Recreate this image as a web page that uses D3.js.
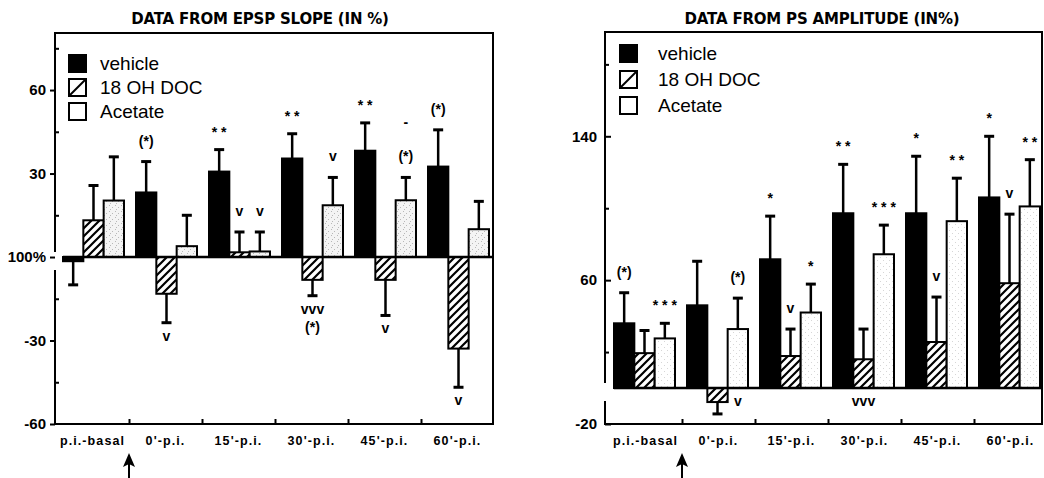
<!DOCTYPE html>
<html>
<head>
<meta charset="utf-8">
<script src="https://cdn.jsdelivr.net/npm/d3@7"></script>
<style>
  body { margin: 0; background: #fff; }
  svg { display: block; font-family: "Liberation Sans", Arial, Helvetica, sans-serif; }
</style>
</head>
<body>
<svg width="1044" height="478"></svg>
<script>
// categories
const groups = ["p.i.-basal", "0'-p.i.", "15'-p.i.", "30'-p.i.", "45'-p.i.", "60'-p.i."];
const seriesNames = ["vehicle", "18 OH DOC", "Acetate"];

// EPSP slope (change vs 100%)
const epspVehicle = [-1.5, 23.2, 30.7, 35.4, 38.2, 32.5];
const epspVehicleSem = [8.5, 11.1, 7.9, 8.9, 10.0, 13.2];
const epspDoc = [13.2, -13.2, 1.7, -8.2, -8.2, -32.9];
const epspDocSem = [12.5, 10.4, 7.3, 5.7, 12.8, 13.9];
const epspAcetate = [20.3, 3.9, 2.0, 18.6, 20.4, 10.0];
const epspAcetateSem = [15.7, 11.1, 7.0, 10.0, 8.2, 10.0];
const epspTicks = [-60, -30, 0, 30, 60];
const epspMinorTicks = [-45, -15, 15, 45, 75];

// PS amplitude (change vs 100%)
const psVehicle = [36, 46, 71.6, 97.2, 97.2, 106];
const psVehicleSem = [17, 24.5, 24, 27.2, 31.7, 34];
const psDoc = [19.4, -7.8, 17.8, 16, 25.6, 58.3];
const psDocSem = [12.6, 6.6, 15, 16.8, 25, 38.4];
const psAcetate = [27.6, 32.8, 42, 74.4, 92.8, 101];
const psAcetateSem = [8.4, 17.2, 15.8, 16.2, 23.9, 26];
const psTicks = [-20, 60, 140];
const psMinorTicks = [20, 100, 180];

// significance marks: group index, series index, text, side, stack level
const epspMarks = [
  {g: 1, s: 0, text: "(*)", side: "up", level: 0},
  {g: 1, s: 1, text: "v", side: "down", level: 0},
  {g: 2, s: 0, text: "* *", side: "up", level: 0},
  {g: 2, s: 1, text: "v", side: "up", level: 0},
  {g: 2, s: 2, text: "v", side: "up", level: 0},
  {g: 3, s: 0, text: "* *", side: "up", level: 0},
  {g: 3, s: 1, text: "vvv", side: "down", level: 0},
  {g: 3, s: 1, text: "(*)", side: "down", level: 1},
  {g: 3, s: 2, text: "v", side: "up", level: 0},
  {g: 4, s: 0, text: "* *", side: "up", level: 0},
  {g: 4, s: 1, text: "v", side: "down", level: 0},
  {g: 4, s: 2, text: "(*)", side: "up", level: 0},
  {g: 4, s: 2, text: "-", side: "up", level: 2},
  {g: 5, s: 0, text: "(*)", side: "up", level: 0},
  {g: 5, s: 1, text: "v", side: "down", level: 0}
];
const psMarks = [
  {g: 0, s: 0, text: "(*)", side: "up", level: 0},
  {g: 0, s: 2, text: "* * *", side: "up", level: 0},
  {g: 1, s: 2, text: "(*)", side: "up", level: 0},
  {g: 1, s: 2, text: "v", side: "down", level: 0},
  {g: 2, s: 0, text: "*", side: "up", level: 0},
  {g: 2, s: 1, text: "v", side: "up", level: 0},
  {g: 2, s: 2, text: "*", side: "up", level: 0},
  {g: 3, s: 0, text: "* *", side: "up", level: 0},
  {g: 3, s: 1, text: "vvv", side: "down", level: 0},
  {g: 3, s: 2, text: "* * *", side: "up", level: 0},
  {g: 4, s: 0, text: "*", side: "up", level: 0},
  {g: 4, s: 1, text: "v", side: "up", level: 0},
  {g: 4, s: 2, text: "* *", side: "up", level: 0},
  {g: 5, s: 0, text: "*", side: "up", level: 0},
  {g: 5, s: 1, text: "v", side: "up", level: 0},
  {g: 5, s: 2, text: "* *", side: "up", level: 0}
];

const svg = d3.select("svg");
const defs = svg.append("defs");

// hatch for 18 OH DOC
const hatch = defs.append("pattern")
    .attr("id", "hatch")
    .attr("patternUnits", "userSpaceOnUse")
    .attr("width", 8).attr("height", 8);
hatch.append("rect").attr("width", 8).attr("height", 8).attr("fill", "#fff");
hatch.append("path")
    .attr("d", "M-2,2 L2,-2 M0,8 L8,0 M6,10 L10,6")
    .attr("stroke", "#000").attr("stroke-width", 2.2);

// stippled fills for acetate
function dots(id, bg, dot, pts) {
    const p = defs.append("pattern")
        .attr("id", id)
        .attr("patternUnits", "userSpaceOnUse")
        .attr("width", 6).attr("height", 6);
    p.append("rect").attr("width", 6).attr("height", 6).attr("fill", bg);
    pts.forEach(d => p.append("rect")
        .attr("x", d[0]).attr("y", d[1]).attr("width", 1).attr("height", 1).attr("fill", dot));
}
dots("dotsL", "#f4f4f4", "#b8b8b8", [[1, 1], [4, 3], [2, 5]]);
dots("dotsR", "#fff", "#d6d6d6", [[1, 2], [4, 5]]);

function drawPanel(opt) {
    const g = svg.append("g");
    const x = d3.scaleBand().domain(groups).range([opt.x0, opt.x0 + groups.length * 73]);
    const xs = d3.scaleBand().domain(seriesNames).range([opt.barOffset, opt.barOffset + 61]);
    const xb = d3.scaleLinear().domain([0, groups.length]).range(x.range());
    const y = d3.scaleLinear().domain(opt.domain).range([opt.bottom, opt.top]);
    const fills = ["#000", "url(#hatch)", opt.dotFill];

    const rows = [];
    groups.forEach((gn, i) => {
        seriesNames.forEach((sn, j) => {
            const v = opt.values[j][i];
            const e = opt.sems[j][i];
            rows.push({g: gn, gi: i, s: sn, si: j, v: v, tip: v + Math.sign(v) * e});
        });
    });

    // title
    g.append("text")
        .attr("x", opt.titleX).attr("y", 24)
        .attr("text-anchor", "middle")
        .attr("font-family", "DejaVu Sans, sans-serif")
        .attr("font-size", 15).attr("font-weight", "bold")
        .attr("letter-spacing", -0.2)
        .text(opt.title);

    // frame, left side broken around the 100% label
    const fr = g.append("g").attr("stroke", "#000").attr("stroke-width", 2).attr("fill", "none");
    fr.append("path").attr("d",
        `M${opt.left},${y(0) - 5} V${opt.top} H${opt.right} V${opt.bottom} H${opt.left} V${y(0) + 13}`);

    // y axis
    const ya = g.append("g")
        .attr("transform", `translate(${opt.left},0)`)
        .call(d3.axisLeft(y).tickValues(opt.ticks).tickSize(opt.tickSize).tickPadding(opt.tickPad)
            .tickFormat(d => d === 0 ? "100%" : d));
    ya.select(".domain").remove();
    ya.selectAll("line").attr("stroke-width", 2);
    ya.selectAll("text").attr("font-size", 15).attr("font-weight", "bold")
        .attr("font-family", "Liberation Sans, Arial, sans-serif").attr("fill", "#000");

    const ym = g.append("g")
        .attr("transform", `translate(${opt.left},0)`)
        .call(d3.axisLeft(y).tickValues(opt.minorTicks).tickSize(-4).tickFormat(""));
    ym.select(".domain").remove();
    ym.selectAll("line").attr("stroke-width", 2);

    // x axis: boundary ticks and labels
    const xt = g.append("g")
        .attr("transform", `translate(0,${opt.bottom})`)
        .call(d3.axisBottom(xb).tickValues(d3.range(1, groups.length)).tickSize(-5).tickFormat(""));
    xt.select(".domain").remove();
    xt.selectAll("line").attr("stroke-width", 2);

    const xl = g.append("g")
        .attr("transform", `translate(0,${opt.bottom})`)
        .call(d3.axisBottom(x).tickSize(0).tickPadding(12));
    xl.select(".domain").remove();
    xl.selectAll("text").attr("font-size", 12.5).attr("font-weight", "bold")
        .attr("letter-spacing", 1.1).attr("fill", "#000")
        .attr("font-family", "Liberation Sans, Arial, sans-serif");

    // bars
    g.selectAll("rect.bar")
        .data(rows)
        .enter().append("rect")
            .attr("class", "bar")
            .attr("x", d => x(d.g) + xs(d.s))
            .attr("y", d => y(Math.max(d.v, 0)))
            .attr("width", xs.bandwidth())
            .attr("height", d => Math.abs(y(d.v) - y(0)))
            .attr("fill", d => fills[d.si])
            .attr("stroke", "#000")
            .attr("stroke-width", 2);

    // baseline at 100%
    g.append("line")
        .attr("x1", x(groups[0]) + xs(seriesNames[0]))
        .attr("x2", opt.right)
        .attr("y1", y(0)).attr("y2", y(0))
        .attr("stroke", "#000").attr("stroke-width", 2.5);

    // error bars
    const cx = d => x(d.g) + xs(d.s) + xs.bandwidth() / 2;
    g.selectAll("line.err")
        .data(rows)
        .enter().append("line")
            .attr("class", "err")
            .attr("x1", cx).attr("x2", cx)
            .attr("y1", d => y(d.v)).attr("y2", d => y(d.tip))
            .attr("stroke", "#000").attr("stroke-width", 2.5);
    g.selectAll("line.cap")
        .data(rows)
        .enter().append("line")
            .attr("class", "cap")
            .attr("x1", d => cx(d) - 5).attr("x2", d => cx(d) + 5)
            .attr("y1", d => y(d.tip)).attr("y2", d => y(d.tip))
            .attr("stroke", "#000").attr("stroke-width", 3);

    // significance marks
    g.selectAll("text.mark")
        .data(opt.marks)
        .enter().append("text")
            .attr("class", "mark")
            .attr("x", d => cx(rows[d.g * 3 + d.s]))
            .attr("y", d => {
                const r = rows[d.g * 3 + d.s];
                if (d.side === "up") {
                    const stars = /^[* ]+$/.test(d.text);
                    return y(r.tip) - (stars ? 13 : 16) - d.level * 17;
                }
                return Math.max(y(0), y(r.tip)) + 18 + d.level * 18;
            })
            .attr("text-anchor", "middle")
            .attr("font-size", d => d.text[0] === "v" ? 14 : 14)
            .attr("font-weight", "bold")
            .text(d => d.text);

    // legend
    const lg = g.append("g");
    seriesNames.forEach((s, i) => {
        const ly = opt.legendY + i * opt.legendStep;
        lg.append("rect")
            .attr("x", opt.legendX).attr("y", ly - 14)
            .attr("width", 17).attr("height", 17)
            .attr("fill", i === 0 ? "#000" : "#fff")
            .attr("stroke", "#000").attr("stroke-width", 2);
        if (i === 1) {
            lg.append("line")
                .attr("x1", opt.legendX).attr("y1", ly + 3)
                .attr("x2", opt.legendX + 17).attr("y2", ly - 14)
                .attr("stroke", "#000").attr("stroke-width", 2);
        }
        lg.append("text")
            .attr("x", opt.legendX + opt.legendTextDx).attr("y", ly + 1)
            .attr("font-size", 19)
            .text(s);
    });

    // injection arrow
    const ax = xb(1);
    g.append("line")
        .attr("x1", ax).attr("x2", ax)
        .attr("y1", 462).attr("y2", 478)
        .attr("stroke", "#000").attr("stroke-width", 2);
    g.append("path")
        .attr("d", `M${ax},453 L${ax - 6},467 L${ax},464 L${ax + 6},467 Z`)
        .attr("fill", "#000");
}

drawPanel({
    title: "DATA FROM EPSP SLOPE (IN %)", titleX: 260,
    left: 55, right: 493, top: 33, bottom: 424,
    x0: 56, barOffset: 7,
    domain: [-60, 80.5],
    ticks: epspTicks, minorTicks: epspMinorTicks, tickSize: 5, tickPad: 4,
    values: [epspVehicle, epspDoc, epspAcetate],
    sems: [epspVehicleSem, epspDocSem, epspAcetateSem],
    marks: epspMarks, dotFill: "url(#dotsL)",
    legendX: 69, legendY: 69, legendStep: 24, legendTextDx: 31
});

drawPanel({
    title: "DATA FROM PS AMPLITUDE (IN%)", titleX: 822,
    left: 605, right: 1042, top: 32, bottom: 424,
    x0: 609, barOffset: 5,
    domain: [-20, 198],
    ticks: psTicks, minorTicks: psMinorTicks, tickSize: -6, tickPad: 8,
    values: [psVehicle, psDoc, psAcetate],
    sems: [psVehicleSem, psDocSem, psAcetateSem],
    marks: psMarks, dotFill: "url(#dotsR)",
    legendX: 620, legendY: 59, legendStep: 26, legendTextDx: 38
});
</script>
</body>
</html>
